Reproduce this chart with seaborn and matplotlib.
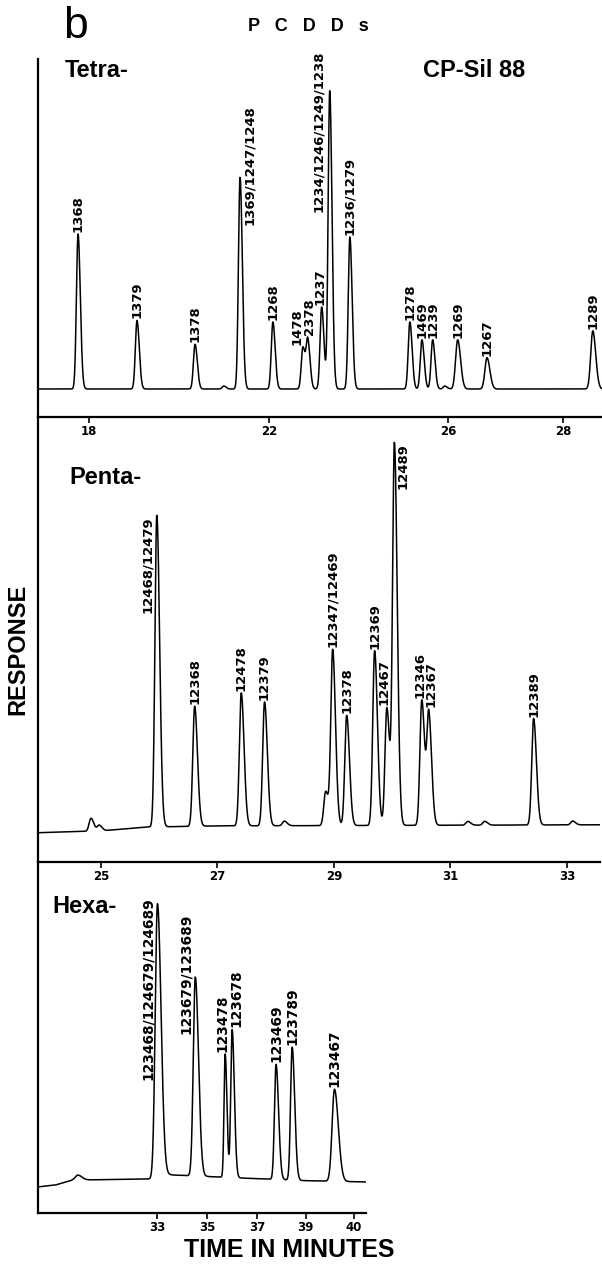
import numpy as np
import matplotlib
matplotlib.use("Agg")
import matplotlib.pyplot as plt
import seaborn as sns

# ---------- CONFIG ----------
sns.set_theme(style="white")
plt.rcParams['font.family'] = ['Liberation Sans', 'DejaVu Sans']
plt.rcParams['text.color'] = 'black'
plt.rcParams['xtick.color'] = 'black'
plt.rcParams['axes.labelcolor'] = 'black'

# ---------- DATA ----------
# retention time (min), relative response (tallest peak of each panel = 100), congener label
TETRA_RT = [17.76, 19.07, 20.36, 21.0, 21.36, 22.09, 22.76, 22.87, 23.18, 23.36,
            23.81, 25.15, 25.42, 25.66, 25.93, 26.17, 26.68, 28.52]
TETRA_HEIGHT = [52, 23, 15, 1, 71, 22.5, 14, 16, 27.5, 100,
                51, 22.5, 16.5, 16.5, 1, 16.5, 10.5, 19.5]
TETRA_LABELS = ["1368", "1379", "1378", "", "1369/1247/1248", "1268", "1478", "2378", "1237",
                "1234/1246/1249/1238", "1236/1279", "1278", "1469", "1239", "", "1269", "1267", "1289"]
TETRA_BASE_T = [16.8, 28.7]
TETRA_BASE_Y = [0, 0]
# recorder time axis is not linear: printed tick times and where they sit on the chart
TETRA_TICKS = [18, 22, 26, 28]
TETRA_TICK_POS = [89, 269, 448, 563]

PENTA_RT = [24.83, 24.97, 25.96, 26.61, 27.41, 27.81, 28.15, 28.86, 28.98, 29.22,
            29.70, 29.91, 30.04, 30.51, 30.63, 31.30, 31.59, 32.43, 33.10]
PENTA_HEIGHT = [3.4, 1.5, 82, 31.6, 35, 32.6, 1.2, 9, 46, 29,
                46, 31, 100, 33, 29, 1, 1, 28, 1]
PENTA_LABELS = ["", "", "12468/12479", "12368", "12478", "12379", "", "", "12347/12469", "12378",
                "12369", "12467", "12489", "12346", "12367", "", "", "12389", ""]
PENTA_BASE_T = [23.9, 25.0, 25.8, 27.0, 33.6]
PENTA_BASE_Y = [-1.8, -1.3, -0.3, 0, 0.3]
PENTA_TICKS = [25, 27, 29, 31, 33]

HEXA_RT = [29.8, 33.0, 34.52, 35.72, 36.0, 37.78, 38.44, 39.6]
HEXA_HEIGHT = [1.8, 100, 72.6, 45, 54, 42, 48.5, 33.6]
HEXA_WIDTH = [0.1, 0.09, 0.08, 0.045, 0.055, 0.065, 0.065, 0.05]  # peak sigma, min
HEXA_LABELS = ["", "123468/124679/124689", "123679/123689", "123478", "123678",
               "123469", "123789", "123467"]
HEXA_BASE_T = [28.2, 28.9, 29.6, 32.8, 33.5, 36.5, 40.3]
HEXA_BASE_Y = [-2.9, -2.2, -0.4, 0, 1.5, 0.3, -1.1]
HEXA_TICKS = [33, 35, 37, 39, 40]
HEXA_TICK_POS = [157, 207, 257, 306, 354]

# label placement tweaks (points): dx, dy, vertical alignment
LABEL_OFFSETS = {
    "1369/1247/1248": (7.2, -34.6, "bottom"),
    "1478": (-4.5, 1.5, "bottom"),
    "2378": (1.5, 1.5, "bottom"),
    "1237": (-1.5, 1.5, "bottom"),
    "1234/1246/1249/1238": (-7.9, -87, "bottom"),
    "12468/12479": (-6.5, -0.7, "top"),
    "12467": (-2.2, 1.5, "bottom"),
    "12489": (6.5, -0.7, "top"),
    "12346": (-1.5, 1.5, "bottom"),
    "12367": (1.5, 1.5, "bottom"),
    "123468/124679/124689": (-7.2, 5, "top"),
    "123679/123689": (-6.5, -41, "bottom"),
    "123478": (-2.0, 1.5, "bottom"),
    "123678": (3.2, 1.5, "bottom"),
}


# ---------- HELPERS ----------
def chromatogram(t, rt, height, sigma, tail, base_t, base_y):
    y = np.interp(t, base_t, base_y)
    sig = np.broadcast_to(np.asarray(sigma, dtype=float), (len(rt),))
    for r, h, sg in zip(rt, height, sig):
        s = np.where(t < r, sg, sg * tail)
        y = y + h * np.exp(-0.5 * ((t - r) / s) ** 2)
    return y


def time_scale(ticks, pos):
    # extend the printed calibration linearly at both ends
    s0 = (pos[1] - pos[0]) / (ticks[1] - ticks[0])
    s1 = (pos[-1] - pos[-2]) / (ticks[-1] - ticks[-2])
    kt = [ticks[0] - 12] + list(ticks) + [ticks[-1] + 12]
    ku = [pos[0] - s0 * 12] + list(pos) + [pos[-1] + s1 * 12]
    return (lambda x: np.interp(x, kt, ku)), (lambda u: np.interp(u, ku, kt))


def draw_panel(ax, rt, height, labels, base_t, base_y, sigma, tail, xlim, ylim,
               ticks, label_size, scale=None):
    if scale is not None:
        ax.set_xscale('function', functions=scale)
    t = np.linspace(xlim[0], xlim[1], 5000)
    y = chromatogram(t, rt, height, sigma, tail, base_t, base_y)
    sns.lineplot(x=t, y=y, ax=ax, color='black', linewidth=1.1, estimator=None, sort=False)
    ax.set_xlim(*xlim)
    ax.set_ylim(*ylim)
    for r, lab in zip(rt, labels):
        if not lab:
            continue
        dx, dy, va = LABEL_OFFSETS.get(lab, (0, 1.5, "bottom"))
        ax.annotate(lab, xy=(r, np.interp(r, t, y)), xytext=(dx, dy), textcoords='offset points',
                    rotation=90, ha='center', va=va, fontsize=label_size,
                    fontweight='bold', family='DejaVu Sans')
    ax.set_xticks(ticks)
    ax.set_xticklabels([str(v) for v in ticks], fontsize=8.5, fontweight='bold', family='DejaVu Sans')
    ax.set_yticks([])
    ax.set_xlabel("")
    ax.set_ylabel("")
    ax.tick_params(axis='x', direction='out', length=4, width=1.2, pad=2, bottom=True, colors='black')
    for side in ['top', 'right']:
        ax.spines[side].set_visible(False)
    for side in ['left', 'bottom']:
        ax.spines[side].set_color('black')
        ax.spines[side].set_linewidth(1.6)
    ax.patch.set_visible(False)


# ---------- PLOT ----------
fig = plt.figure(figsize=(6.02, 12.66), dpi=100)

ax_tetra = fig.add_axes([0.0631, 0.6706, 0.9369, 0.2828])
draw_panel(ax_tetra, TETRA_RT, TETRA_HEIGHT, TETRA_LABELS, TETRA_BASE_T, TETRA_BASE_Y,
           0.036, 1.4, (16.87, 28.68), (-9.4, 110.7), TETRA_TICKS, 9.5,
           scale=time_scale(TETRA_TICKS, TETRA_TICK_POS))

ax_penta = fig.add_axes([0.0631, 0.3191, 0.9336, 0.3515])
draw_panel(ax_penta, PENTA_RT, PENTA_HEIGHT, PENTA_LABELS, PENTA_BASE_T, PENTA_BASE_Y,
           0.032, 1.5, (23.92, 33.57), (-9.5, 107.6), PENTA_TICKS, 9.5)

ax_hexa = fig.add_axes([0.0631, 0.0419, 0.5449, 0.2773])
draw_panel(ax_hexa, HEXA_RT, HEXA_HEIGHT, HEXA_LABELS, HEXA_BASE_T, HEXA_BASE_Y,
           HEXA_WIDTH, 1.6, (28.2, 40.26), (-12.4, 115.7), HEXA_TICKS, 9.9,
           scale=time_scale(HEXA_TICKS, HEXA_TICK_POS))

fig.text(0.1047, 0.979, "b", fontsize=32, ha='left', va='center')
fig.text(0.5125, 0.9787, "P   C   D   D   s", fontsize=13, fontweight='bold', ha='center', va='center')
fig.text(0.788, 0.944, "CP-Sil 88", fontsize=17, fontweight='bold', ha='center', va='center')
fig.text(0.108, 0.944, "Tetra-", fontsize=17, fontweight='bold', ha='left', va='center')
fig.text(0.1146, 0.6232, "Penta-", fontsize=17, fontweight='bold', ha='left', va='center')
fig.text(0.0864, 0.2836, "Hexa-", fontsize=17, fontweight='bold', ha='left', va='center')
fig.text(0.030, 0.4874, "RESPONSE", fontsize=17, fontweight='bold', rotation=90, ha='center', va='center')
fig.text(0.481, 0.0126, "TIME IN MINUTES", fontsize=18, fontweight='bold', ha='center', va='center')

fig.savefig("out.png", dpi=100)
